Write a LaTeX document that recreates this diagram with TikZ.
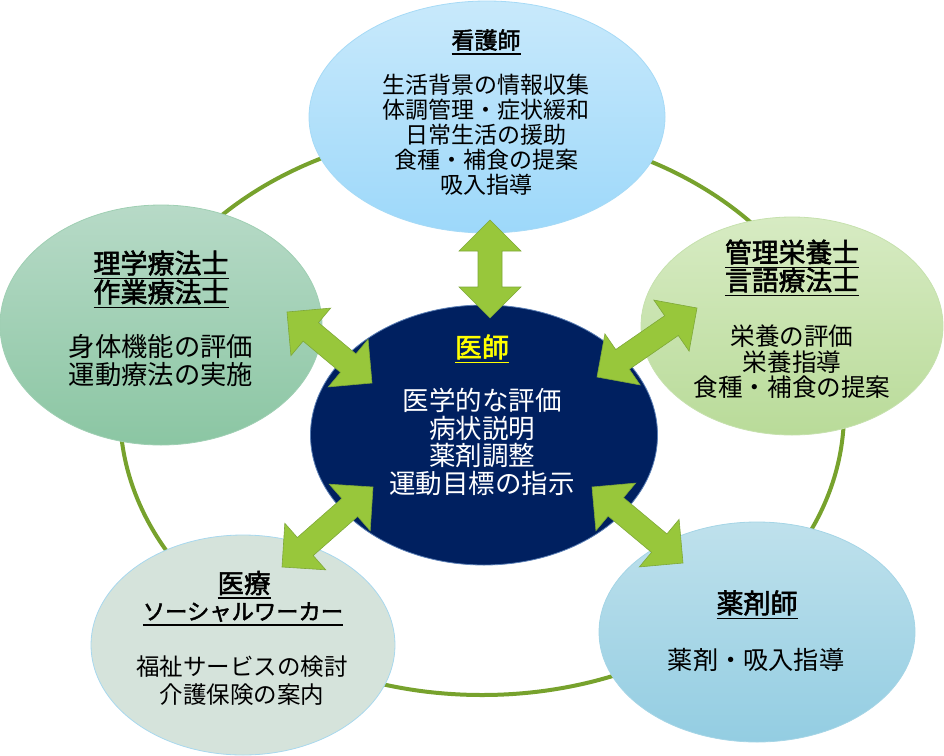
\documentclass[tikz,border=0pt]{standalone}
\usepackage{fontspec}
\newfontfamily\jp{Noto Sans CJK JP}[AutoFakeBold=2]
\usetikzlibrary{shapes.geometric,calc}
\definecolor{ringgreen}{HTML}{77A22D}
\definecolor{arrfill}{HTML}{98C73B}
\definecolor{arrline}{HTML}{7EA838}
\definecolor{navy}{HTML}{002060}
\definecolor{navyD}{HTML}{5B7FB5}
\definecolor{nurseT}{HTML}{C8E9FB}
\definecolor{nurseB}{HTML}{9DD8FA}
\definecolor{nurseD}{HTML}{A6DAF6}
\definecolor{ptT}{HTML}{B7DAC7}
\definecolor{ptB}{HTML}{8BC6A3}
\definecolor{ptD}{HTML}{9FCFB3}
\definecolor{dietT}{HTML}{D7EBC3}
\definecolor{dietB}{HTML}{B9DB99}
\definecolor{dietD}{HTML}{C6E1AE}
\definecolor{mswF}{HTML}{D5E3DB}
\definecolor{mswD}{HTML}{A8D8EE}
\definecolor{pharmT}{HTML}{BFE1EC}
\definecolor{pharmB}{HTML}{93CDE2}
\definecolor{pharmD}{HTML}{A5D5E6}
\definecolor{docyellow}{HTML}{FFFF00}
\newcommand\ulj[1]{\leavevmode\setbox0\hbox{#1}\rlap{\raisebox{0pt}[0pt][0pt]{\vrule height -4.3pt depth 5.9pt width \wd0}}\box0}
\newcommand\blockarrow[2]{%
  \coordinate (h1) at ($(#1)!31pt!(#2)$);
  \coordinate (h2) at ($(#2)!31pt!(#1)$);
  \draw[barrow] (#1) -- ($(h1)!31pt!90:(#2)$) -- ($(h1)!12pt!90:(#2)$)
    -- ($(h2)!12pt!-90:(#1)$) -- ($(h2)!31pt!-90:(#1)$) -- (#2)
    -- ($(h2)!31pt!90:(#1)$) -- ($(h2)!12pt!90:(#1)$)
    -- ($(h1)!12pt!-90:(#2)$) -- ($(h1)!31pt!-90:(#2)$) -- cycle;}
\begin{document}
\begin{tikzpicture}[x=1pt,y=-1pt,font=\jp,
  bubble/.style={ellipse, inner sep=0pt, line width=0.8pt},
  txt/.style={align=center, inner sep=0pt, text=black},
  barrow/.style={fill=arrfill, draw=arrline, line width=0.6pt, line join=miter}]
\useasboundingbox (0,0) rectangle (944,755);
% ring
\node[ellipse, draw=ringgreen, line width=4pt, minimum width=724pt, minimum height=566pt, inner sep=0pt] (ring) at (482,412) {};
% bubbles
\node[bubble, minimum width=356pt, minimum height=232pt, top color=nurseT, bottom color=nurseB, draw=nurseD] (nurse) at (487,117) {};
\node[bubble, minimum width=322pt, minimum height=240pt, top color=ptT, bottom color=ptB, draw=ptD] (pt) at (161,325) {};
\node[bubble, minimum width=302pt, minimum height=218pt, top color=dietT, bottom color=dietB, draw=dietD] (diet) at (792,326) {};
\node[bubble, minimum width=304pt, minimum height=220pt, fill=mswF, draw=mswD] (msw) at (243,645) {};
\node[bubble, minimum width=316pt, minimum height=220pt, top color=pharmT, bottom color=pharmB, draw=pharmD] (pharm) at (757,632) {};
\node[bubble, minimum width=347pt, minimum height=260pt, fill=navy, draw=navyD] (doc) at (484,435) {};
% arrow ends
\coordinate (a1) at (490,220); \coordinate (a2) at (490,318);
\coordinate (b1) at (287,312); \coordinate (b2) at (372,383);
\coordinate (c1) at (597,377); \coordinate (c2) at (697,308);
\coordinate (d1) at (282,567); \coordinate (d2) at (373,487);
\coordinate (e1) at (592,487); \coordinate (e2) at (683,563);
\blockarrow{a1}{a2}
\blockarrow{b1}{b2}
\blockarrow{c1}{c2}
\blockarrow{d1}{d2}
\blockarrow{e1}{e2}
% texts
\node[txt, font=\jp\fontsize{23}{25}\selectfont\bfseries] (nurseTitle) at (486,40) {\ulj{看護師}};
\node[txt, font=\jp\fontsize{23}{25}\selectfont] (nurseBody) at (486,135) {生活背景の情報収集\\体調管理・症状緩和\\日常生活の援助\\食種・補食の提案\\吸入指導};
\node[txt, text=docyellow, font=\jp\fontsize{27}{29}\selectfont\bfseries] (docTitle) at (482,347) {\ulj{医師}};
\node[txt, text=white, font=\jp\fontsize{26.5}{27.7}\selectfont] (docBody) at (482,442) {医学的な評価\\病状説明\\薬剤調整\\運動目標の指示};
\node[txt, font=\jp\fontsize{27}{29}\selectfont\bfseries] (ptTitle) at (161,277.5) {\ulj{理学療法士}\\\ulj{作業療法士}};
\node[txt, font=\jp\fontsize{26.3}{28}\selectfont] (ptBody) at (161,361) {身体機能の評価\\運動療法の実施};
\node[txt, font=\jp\fontsize{26.8}{28}\selectfont\bfseries] (dietTitle) at (792,266) {\ulj{管理栄養士}\\\ulj{言語療法士}};
\node[txt, font=\jp\fontsize{24.6}{25.5}\selectfont] (dietBody) at (792,362) {栄養の評価\\栄養指導\\食種・補食の提案};
\node[txt, font=\jp\fontsize{26.5}{29}\selectfont\bfseries] (mswTitleA) at (244,583) {\ulj{医療}};
\node[txt, font=\jp\fontsize{22.3}{29}\selectfont\bfseries] (mswTitleB) at (243,612) {\ulj{ソーシャルワーカー}};
\node[txt, font=\jp\fontsize{23.5}{28}\selectfont] (mswBody) at (242,681) {福祉サービスの検討\\介護保険の案内};
\node[txt, font=\jp\fontsize{27}{29}\selectfont\bfseries] (pharmTitle) at (757,603) {\ulj{薬剤師}};
\node[txt, font=\jp\fontsize{25.2}{28}\selectfont] (pharmBody) at (756,660) {薬剤・吸入指導};
\end{tikzpicture}
\end{document}
